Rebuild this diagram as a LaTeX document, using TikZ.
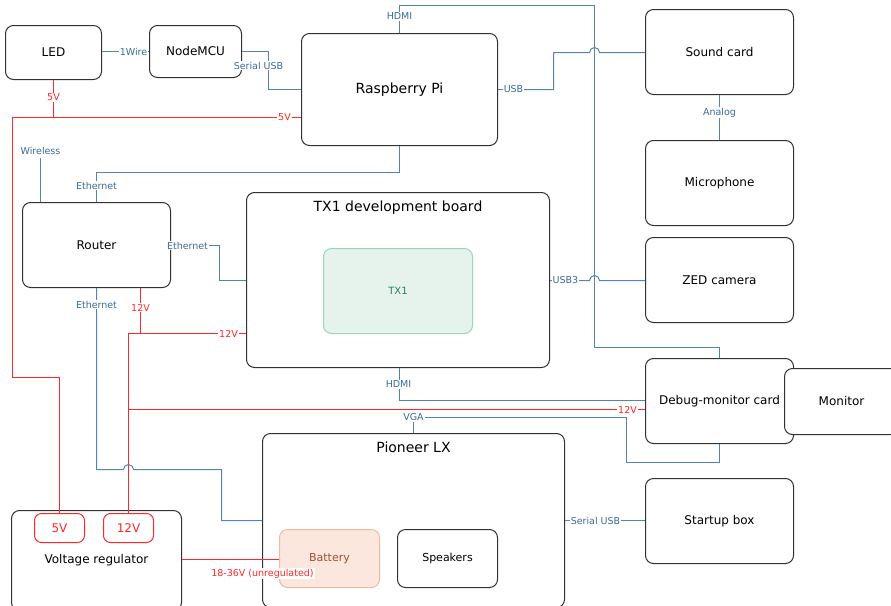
\documentclass[tikz,border=0pt]{standalone}
\usepackage{fontspec}
\setmainfont{DejaVu Sans}
\definecolor{bl}{RGB}{84,132,176}
\definecolor{blt}{RGB}{58,108,152}
\definecolor{rd}{RGB}{255,40,40}
\definecolor{bd}{RGB}{50,50,50}
\definecolor{gfill}{RGB}{230,243,237}
\definecolor{gdraw}{RGB}{150,215,190}
\definecolor{gtext}{RGB}{40,130,100}
\definecolor{bfill}{RGB}{251,231,222}
\definecolor{bdraw}{RGB}{243,185,160}
\definecolor{btext}{RGB}{160,82,45}
\tikzset{
  box/.style={draw=bd, line width=1pt, rounded corners=8pt, fill=white, inner sep=0pt, font=\fontsize{12}{14}\selectfont, text=black},
  title/.style={inner sep=0pt, font=\fontsize{14}{16}\selectfont, text=black},
  pill/.style={draw=rd, line width=1pt, rounded corners=7pt, fill=white, inner sep=0pt, minimum width=50pt, minimum height=29pt, text=rd, font=\fontsize{12}{14}\selectfont},
  bline/.style={color=bl, line width=1pt},
  rline/.style={color=rd, line width=1pt},
  blab/.style={fill=white, inner sep=1pt, text=blt, font=\fontsize{9.5}{11}\selectfont},
  rlab/.style={fill=white, inner sep=1pt, text=rd, font=\fontsize{9.5}{11}\selectfont},
}
\begin{document}
\begin{tikzpicture}[x=1pt,y=-1pt]
\useasboundingbox (0,0) rectangle (891,605);
\clip (0,0) rectangle (891,605);
\fill[white] (0,0) rectangle (891,605);
\begin{scope}[xshift=0.5pt, yshift=-0.5pt]
% boxes
\node[box, minimum width=96pt, minimum height=54pt] (led) at (53,52) {LED};
\node[box, minimum width=92pt, minimum height=52pt] (mcu) at (195,51) {NodeMCU};
\node[box, minimum width=196pt, minimum height=112pt, font=\fontsize{14}{16}\selectfont] (rpi) at (399,89) {Raspberry Pi};
\node[box, minimum width=148pt, minimum height=85pt] (snd) at (719,51.5) {Sound card};
\node[box, minimum width=148pt, minimum height=85pt] (mic) at (719,182.5) {Microphone};
\node[box, minimum width=148pt, minimum height=85pt] (zed) at (719,279.5) {ZED camera};
\node[box, minimum width=148pt, minimum height=85pt] (dbg) at (719,400.5) {Debug-monitor card};
\node[box, minimum width=114pt, minimum height=66pt] (mon) at (841,401) {Monitor};
\node[box, minimum width=148pt, minimum height=85pt] (rtr) at (96,244.5) {Router};
\node[box, minimum width=303pt, minimum height=175pt] (tx1) at (397.5,279.5) {};
\node[title] (tx1t) at (397.5,207) {TX1 development board};
\node[box, draw=gdraw, fill=gfill, text=gtext, minimum width=149pt, minimum height=85pt, font=\fontsize{10}{12}\selectfont] (tx1i) at (397.5,290.5) {TX1};
\node[box, minimum width=302pt, minimum height=174pt] (pio) at (413,520) {};
\node[title] (piot) at (413,447) {Pioneer LX};
\node[box, draw=bdraw, fill=bfill, text=btext, minimum width=100pt, minimum height=58pt, font=\fontsize{11}{13}\selectfont] (bat) at (329,558) {Battery};
\node[box, minimum width=100pt, minimum height=58pt, font=\fontsize{11}{13}\selectfont] (spk) at (447,558) {Speakers};
\node[box, minimum width=148pt, minimum height=85pt] (stb) at (719,520.5) {Startup box};
\node[box, minimum width=170pt, minimum height=100pt] (vr) at (96,560) {Voltage regulator};
\node[pill] (v5) at (59,527.5) {5V};
\node[pill] (v12) at (128,527.5) {12V};

% red connectors
\draw[rline] (led.south -| 53,0) -- (53,117);
\draw[rline] (v5.north -| 59,0) -- (59,377) -- (12,377) -- (12,117) -- (rpi.west |- 0,117);
\draw[rline] (rtr.south -| 140,0) -- (140,333);
\draw[rline] (v12.north -| 128,0) -- (128,333) -- (tx1.west |- 0,333);
\draw[rline] (128,333) -- (128,409) -- (dbg.west |- 0,409);
\draw[rline] (vr.east |- 0,559) -- (bat.west |- 0,559);

% blue connectors
\draw[bline] (led.east |- 0,51) -- (mcu.west |- 0,51);
\draw[bline] (mcu.east |- 0,51) -- (268,51) -- (268,89) -- (rpi.west |- 0,89);
\draw[bline] (rpi.north -| 399,0) -- (399,5) -- (594,5) -- (594,347) -- (719,347) -- (dbg.north -| 719,0);
\draw[bline] (rpi.east |- 0,89) -- (553,89) -- (553,52) -- (589,52) arc[start angle=180, end angle=0, radius=5pt] -- (snd.west |- 0,52);
\draw[bline] (tx1.east |- 0,280) -- (589,280) arc[start angle=180, end angle=0, radius=5pt] -- (zed.west |- 0,280);
\draw[bline] (tx1.south -| 399,0) -- (399,400) -- (dbg.west |- 0,400);
\draw[bline] (rpi.south -| 399,0) -- (399,172) -- (96,172) -- (rtr.north -| 96,0);
\draw[bline] (rtr.north -| 40,0) -- (40,157);
\draw[bline] (rtr.east |- 0,245) -- (219,245) -- (219,280) -- (tx1.west |- 0,280);
\draw[bline] (rtr.south -| 96,0) -- (96,469) -- (123,469) arc[start angle=180, end angle=0, radius=5pt] -- (221,469) -- (221,520) -- (pio.west |- 0,520);
\draw[bline] (pio.north -| 413,0) -- (413,417) -- (626,417) -- (626,462) -- (719,462) -- (dbg.south -| 719,0);
\draw[bline] (pio.east |- 0,520) -- (stb.west |- 0,520);
\draw[bline] (snd.south -| 719,0) -- (mic.north -| 719,0);

% labels
\node[blab] (l1w) at (133,51) {1Wire};
\node[blab] (lser) at (258,65) {Serial USB};
\node[blab] (lhd1) at (399,16) {HDMI};
\node[blab] (lusb) at (513,89) {USB};
\node[blab] (lusb3) at (565,280) {USB3};
\node[blab] (lhd2) at (398,384) {HDMI};
\node[blab] (leth1) at (96,185) {Ethernet};
\node[blab] (lwl) at (40,150) {Wireless};
\node[blab] (leth2) at (187,245) {Ethernet};
\node[blab] (leth3) at (96,304) {Ethernet};
\node[blab] (lvga) at (413,417) {VGA};
\node[blab] (lser2) at (595,520) {Serial USB};
\node[blab] (lan) at (719,112) {Analog};
\node[rlab] (l5a) at (53,97) {5V};
\node[rlab] (l5b) at (284,117) {5V};
\node[rlab] (l12a) at (140,307) {12V};
\node[rlab] (l12b) at (228,333) {12V};
\node[rlab] (l12c) at (627,409) {12V};
\node[rlab] (lunreg) at (262,573) {18-36V (unregulated)};
\end{scope}
\end{tikzpicture}
\end{document}
